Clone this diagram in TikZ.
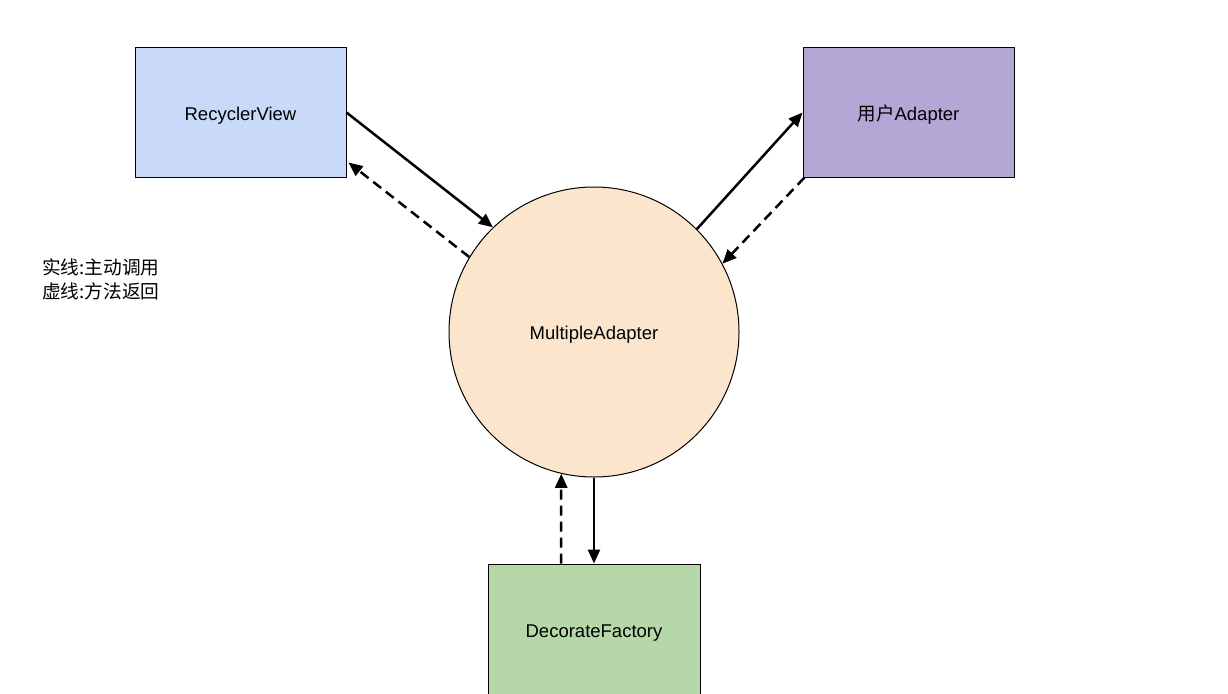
\documentclass[tikz,border=0pt]{standalone}
\usepackage{fontspec}
\setmainfont{Liberation Sans}
\newfontfamily\cjk{Noto Sans CJK SC}
\usetikzlibrary{arrows.meta}
\definecolor{rvblue}{HTML}{C9DAF8}
\definecolor{uapurple}{HTML}{B4A7D6}
\definecolor{maorange}{HTML}{FCE5CD}
\definecolor{dfgreen}{HTML}{B6D7A8}

\begin{document}
\begin{tikzpicture}[x=1pt, y=-1pt,
    every node/.style={font=\fontsize{18.5}{23}\selectfont, text height=15pt, text depth=0pt},
    box/.style={draw, line width=1pt, minimum width=211pt, minimum height=129pt, inner sep=0pt},
    call/.style={-{Triangle[length=14pt, width=12pt]}, line width=2.5pt},
    back/.style={call, dash pattern=on 10pt off 6pt},
    legend/.style={font=\cjk\fontsize{18.7}{24}\selectfont, text height=, text depth=, align=left, anchor=west, inner sep=0pt}]
    \useasboundingbox (0,0) rectangle (1228,693);
    \node [box, fill=rvblue] (rv) at (240.5,112.5) {RecyclerView};
    \node [box, fill=uapurple] (ua) at (908.5,112.5) {{\cjk 用户}Adapter};
    \node [draw, circle, fill=maorange, line width=1pt, minimum size=290pt, inner sep=0pt] (ma) at (594,332) {MultipleAdapter};
    \node [box, fill=dfgreen, minimum width=212pt, minimum height=132pt] (df) at (594,630) {DecorateFactory};
    \node [legend] (key) at (42,279) {实线:主动调用\\虚线:方法返回};
    \draw [call] (rv.east) -- (ma.134.5);
    \draw [back] (ma.149.6) -- ([shift={(2,50)}]rv.east);
    \draw [call] (ma.45.3) -- (ua.west);
    \draw [back] ([shift={(2,0)}]ua.south west) -- (ma.28.8);
    \draw [call] (ma.south) -- (df.north);
    \draw [back] ([shift={(-33,0)}]df.north) -- (ma.257);
  \end{tikzpicture}
\end{document}
